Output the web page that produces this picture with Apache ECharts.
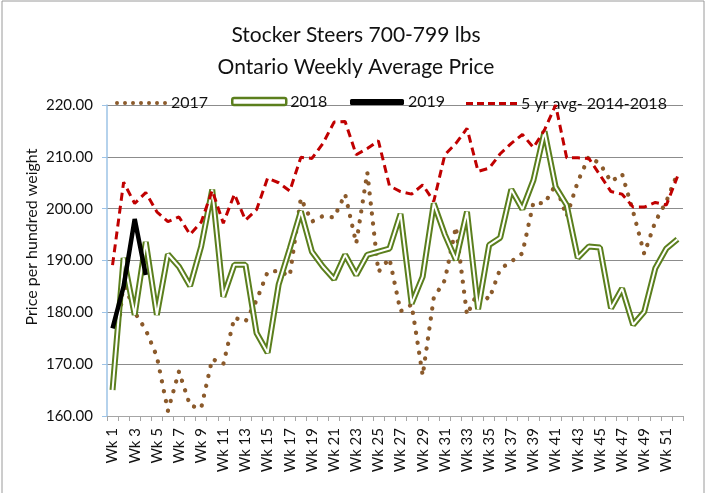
<!DOCTYPE html>
<html>
<head>
<meta charset="utf-8">
<script src="https://cdn.jsdelivr.net/npm/echarts@6/dist/echarts.min.js"></script>
<style>html,body{margin:0;padding:0;background:#fff;}#chart{width:725px;height:493px;}</style>
</head>
<body>
<div id="chart"></div>
<script>
const weeks = [];
for (let i = 1; i <= 52; i++) weeks.push('Wk ' + i);

const y2017 = [166.0, 186.0, 180.0, 176.6, 171.5, 161.0, 168.6, 162.0, 161.5, 171.0,
  170.0, 179.0, 178.2, 182.3, 187.8, 188.0, 187.0, 202.0, 197.5, 198.6,
  198.3, 202.8, 193.3, 207.0, 187.8, 190.4, 180.2, 181.5, 167.8, 182.8,
  186.2, 196.5, 179.5, 184.0, 182.5, 188.4, 189.8, 191.4, 201.2, 201.0,
  204.6, 198.5, 205.2, 210.0, 208.7, 205.2, 206.7, 199.4, 191.3, 197.5,
  201.4, 206.8];

const y2018 = [165.0, 190.5, 179.5, 193.6, 179.5, 191.2, 188.8, 185.1, 192.7, 203.7,
  183.0, 189.2, 189.2, 176.0, 172.2, 185.4, 192.3, 199.5, 191.7, 188.8,
  186.4, 191.1, 187.2, 191.1, 191.7, 192.3, 199.0, 181.7, 186.9, 201.0,
  195.0, 190.1, 199.4, 180.6, 193.0, 194.4, 203.7, 199.9, 205.5, 214.9,
  204.2, 200.7, 190.5, 192.7, 192.5, 180.8, 184.6, 177.6, 180.1, 188.5,
  192.3, 194.1];

const y2019 = [176.9, 185.0, 198.0, 187.2];

const avg5yr = [189.1, 205.1, 201.0, 203.1, 199.4, 197.5, 198.4, 195.0, 197.4, 203.5,
  197.2, 202.8, 197.8, 199.8, 205.9, 205.0, 203.4, 209.9, 209.7, 212.6,
  216.7, 216.8, 210.4, 211.6, 213.1, 204.4, 203.3, 202.8, 204.6, 201.4,
  210.4, 212.6, 215.5, 207.2, 207.8, 210.6, 212.6, 214.3, 211.8, 215.2,
  220.0, 209.8, 209.8, 209.7, 206.5, 203.3, 202.8, 200.3, 200.3, 201.2,
  200.7, 206.2];

const yTicks = { min: 160, max: 220, interval: 10 };

const FONT = 'Lato';
const BROWN = '#8B5A2B', GREEN = '#5B7F1D', RED = '#C00000';

// legend icon paths
let dotsPath = 'path://';
for (let i = 0; i < 7; i++) { const cx = 2 + i * 8; dotsPath += 'M' + (cx - 2) + ',2a2,2 0 1,0 4,0a2,2 0 1,0 -4,0'; }
let dashPath = 'path://';
for (let i = 0; i < 5; i++) { const x = i * 11; dashPath += 'M' + x + ',0h7v3h-7z'; }

const chart = echarts.init(document.getElementById('chart'), null, { renderer: 'canvas' });

function legendAt(name, left, icon, w, h, itemStyle) {
  return {
    data: [{ name: name, icon: icon, itemStyle: itemStyle }],
    left: left, top: 97 - h / 2, padding: 0,
    itemWidth: w, itemHeight: h,
    textStyle: { fontFamily: FONT, fontSize: 16, color: '#111', padding: [0, 0, 0, -1] }
  };
}

chart.setOption({
  animation: false,
  backgroundColor: '#fff',
  title: {
    text: 'Stocker Steers 700-799 lbs\nOntario Weekly Average Price',
    left: 356, top: 19, padding: 0, textAlign: 'center',
    textStyle: { fontFamily: FONT, fontSize: 21, fontWeight: 'normal', color: '#111', lineHeight: 32 }
  },
  legend: [
    legendAt('2017', 115, dotsPath, 52, 4, { color: BROWN }),
    legendAt('2018', 231, 'roundRect', 54, 7, { color: '#fff', borderColor: GREEN, borderWidth: 2.5 }),
    legendAt('2019', 350, 'roundRect', 54, 6, { color: '#000' }),
    legendAt('5 yr avg- 2014-2018', 466, dashPath, 51, 3, { color: RED })
  ],
  grid: { left: 107, right: 42, top: 105, bottom: 77, containLabel: false },
  xAxis: {
    type: 'category', data: weeks, boundaryGap: true,
    axisLine: { show: true, lineStyle: { color: '#A6A6A6', width: 1 } },
    axisTick: { show: true, interval: 0, length: 5, lineStyle: { color: '#A6A6A6' } },
    axisLabel: { interval: 1, rotate: 90, margin: 12, fontFamily: FONT, fontSize: 15, color: '#111' },
    splitLine: { show: false }
  },
  yAxis: {
    type: 'value', min: yTicks.min, max: yTicks.max, interval: yTicks.interval,
    axisLine: { show: true, lineStyle: { color: '#9DC3E6', width: 1.5 } },
    axisTick: { show: true, length: 5, lineStyle: { color: '#9DC3E6' } },
    axisLabel: { margin: 14, fontFamily: FONT, fontSize: 15, color: '#111', formatter: v => v.toFixed(2) },
    splitLine: { show: true, lineStyle: { color: '#8C8C8C', width: 1 } }
  },
  graphic: [
    { type: 'rect', shape: { x: 2, y: 1, width: 702, height: 520 }, style: { fill: 'none', stroke: '#9A9A9A', lineWidth: 1 }, silent: true },
    { type: 'text', x: 32, y: 237, rotation: Math.PI / 2,
      style: { text: 'Price per hundred weight', font: '16px ' + FONT, fill: '#111', align: 'center', verticalAlign: 'middle' } }
  ],
  series: [
    { name: '2017', type: 'line', data: y2017, symbol: 'none', z: 2,
      lineStyle: { color: BROWN, width: 4.3, type: [0.1, 10], cap: 'round' }, itemStyle: { color: BROWN } },
    { name: '2018', type: 'line', data: y2018, symbol: 'none', z: 3,
      lineStyle: { color: GREEN, width: 6 }, itemStyle: { color: GREEN } },
    { name: '2018inner', type: 'line', data: y2018, symbol: 'none', z: 4, silent: true,
      lineStyle: { color: '#fff', width: 2 }, itemStyle: { color: '#fff' } },
    { name: '2019', type: 'line', data: y2019, symbol: 'none', z: 5,
      lineStyle: { color: '#000', width: 4.5 }, itemStyle: { color: '#000' } },
    { name: '5 yr avg- 2014-2018', type: 'line', data: avg5yr, symbol: 'none', z: 6,
      lineStyle: { color: RED, width: 3, type: [8, 5] }, itemStyle: { color: RED } }
  ]
});
</script>
</body>
</html>
